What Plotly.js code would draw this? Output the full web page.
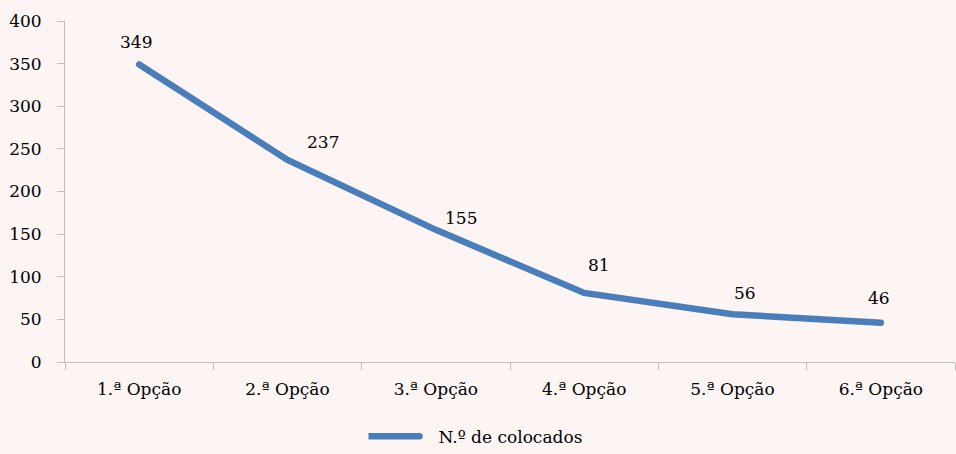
<!DOCTYPE html>
<html>
<head>
<meta charset="utf-8">
<script src="https://cdn.plot.ly/plotly-3.0.1.min.js"></script>
<style>
html, body { margin: 0; padding: 0; background: #fdf4f4; }
#chart { width: 956px; height: 454px; }
.scatterlayer path.js-line, .legendlines path { stroke-linecap: round; }
.legend .legendlines { transform: translateX(-14px); }
</style>
</head>
<body>
<div id="chart"></div>
<script>
var opcoes = ['1.ª Opção', '2.ª Opção', '3.ª Opção', '4.ª Opção', '5.ª Opção', '6.ª Opção'];
var colocados = [349, 237, 155, 81, 56, 46];
var yTicks = [0, 50, 100, 150, 200, 250, 300, 350, 400];

// where each value label sits relative to its point (px)
var labelDx = [-3, 35, 25, 15, 12, -2];
var labelDy = [22, 18, 12, 28, 21, 25];

var FONT = 'DejaVu Serif';
var FS = 17;
var AXIS_COLOR = '#bfbfbf';

var trace = {
    x: opcoes,
    y: colocados,
    type: 'scatter',
    mode: 'lines',
    name: 'N.º de colocados',
    line: { color: '#4a7ebb', width: 6.5 },
    cliponaxis: false,
    hoverinfo: 'x+y'
};

var labels = colocados.map((v, i) => ({
    x: opcoes[i],
    y: v,
    text: String(v),
    showarrow: false,
    xanchor: 'center',
    yanchor: 'middle',
    xshift: labelDx[i],
    yshift: labelDy[i],
    font: { family: FONT, size: FS, color: '#000' }
}));

var layout = {
    width: 956,
    height: 454,
    paper_bgcolor: '#fdf4f4',
    plot_bgcolor: '#fdf4f4',
    font: { family: FONT, size: FS, color: '#000' },
    margin: { l: 65, r: 1, t: 21, b: 92 },
    annotations: labels,
    xaxis: {
        type: 'category',
        range: [-0.5, 5.5],
        showline: true,
        linecolor: AXIS_COLOR,
        linewidth: 1,
        showgrid: false,
        zeroline: false,
        ticks: 'outside',
        tickson: 'boundaries',
        ticklen: 7,
        tickcolor: AXIS_COLOR,
        ticklabelstandoff: 12,
        tickfont: { family: FONT, size: FS, color: '#000' }
    },
    yaxis: {
        range: [0, 400],
        tickvals: yTicks,
        showline: true,
        linecolor: AXIS_COLOR,
        linewidth: 1,
        showgrid: false,
        zeroline: false,
        ticks: 'outside',
        ticklen: 7,
        tickcolor: AXIS_COLOR,
        ticklabelstandoff: 12,
        tickfont: { family: FONT, size: FS, color: '#000' }
    },
    showlegend: true,
    legend: {
        orientation: 'h',
        x: 0.5,
        xanchor: 'center',
        xref: 'container',
        y: 0.038,
        yanchor: 'middle',
        yref: 'container',
        itemwidth: 60,
        font: { family: FONT, size: FS, color: '#000' },
        bgcolor: 'rgba(0,0,0,0)'
    }
};

Plotly.newPlot('chart', [trace], layout, { displayModeBar: false, staticPlot: true });
</script>
</body>
</html>
